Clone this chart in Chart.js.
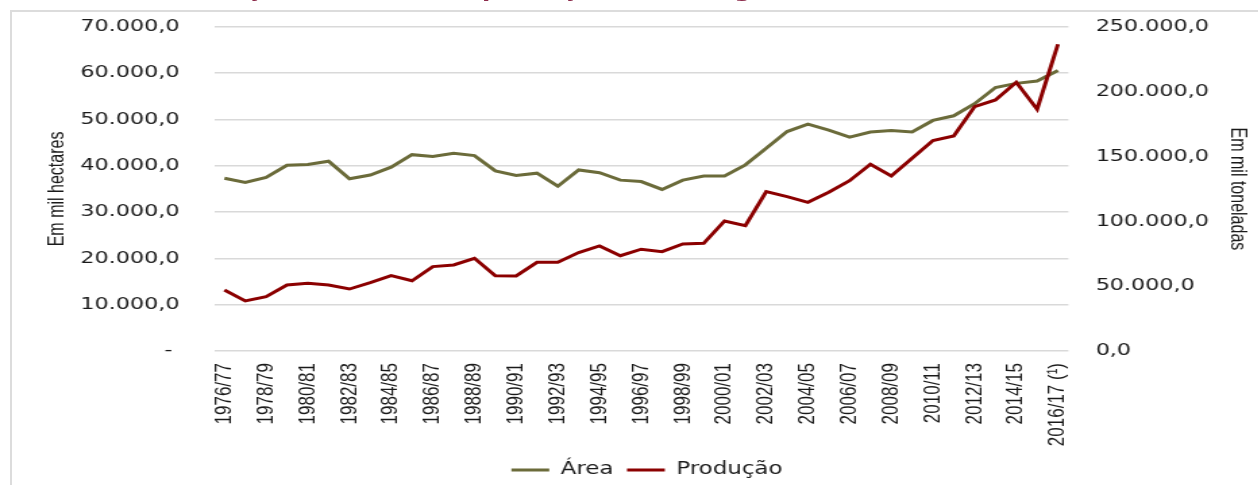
<!DOCTYPE html>
<html lang="pt">
<head>
<meta charset="utf-8">
<title>Evolução da área e da produção de grãos</title>
<script src="https://cdn.jsdelivr.net/npm/chart.js@4.4.0/dist/chart.umd.min.js"></script>
<style>
  html, body { margin: 0; padding: 0; background: #fff; overflow: hidden; }
  body { width: 1258px; height: 485px; position: relative; }
  .moldura { position: absolute; left: 10px; top: 10px; width: 1300px; height: 500px;
             border-left: 2px solid #dcdcdc; border-top: 2px solid #dcdcdc; }
  /* a figura original está esticada na horizontal */
  .palco { position: absolute; left: 0; top: 0; width: 932px; height: 485px;
           transform-origin: 0 0; transform: scaleX(1.35); }
  .titulo { position: absolute; left: 15px; top: -18px; white-space: nowrap;
            font: bold 18px "DejaVu Sans", sans-serif; line-height: 18px; color: #8b2a4a; }
  canvas { position: absolute; left: 0; top: 0; }
</style>
</head>
<body>
<div class="moldura"></div>
<div class="palco">
  <div class="titulo">Gráfico 1 – Evolução da área e da produção total de grãos</div>
  <canvas id="grafico" width="932" height="485"></canvas>
</div>
<script>
// safras
const safras = [
  "1976/77", "1977/78", "1978/79", "1979/80", "1980/81", "1981/82", "1982/83",
  "1983/84", "1984/85", "1985/86", "1986/87", "1987/88", "1988/89", "1989/90",
  "1990/91", "1991/92", "1992/93", "1993/94", "1994/95", "1995/96", "1996/97",
  "1997/98", "1998/99", "1999/00", "2000/01", "2001/02", "2002/03", "2003/04",
  "2004/05", "2005/06", "2006/07", "2007/08", "2008/09", "2009/10", "2010/11",
  "2011/12", "2012/13", "2013/14", "2014/15", "2015/16", "2016/17 (¹)"
];

// área plantada, em mil hectares
const area = [
  37300, 36400, 37500, 40100, 40300, 41000, 37200, 38000, 39700, 42400,
  42000, 42700, 42200, 38900, 37900, 38400, 35600, 39100, 38500, 36900,
  36600, 34900, 36900, 37800, 37800, 40200, 43800, 47400, 49000, 47700,
  46200, 47300, 47600, 47300, 49800, 50800, 53400, 56900, 57800, 58300,
  60600
];

// produção, em mil toneladas
const producao = [
  47100, 38600, 41900, 50900, 52200, 50900, 47800, 52700, 58100, 54200,
  65100, 66400, 71500, 58100, 57900, 68400, 68400, 75900, 81000, 73500,
  78500, 76600, 82600, 83100, 100300, 96700, 122900, 119100, 114700, 122500,
  131400, 144100, 135000, 148700, 162300, 165900, 188500, 193700, 207300, 186500,
  236600
];

const corArea = "#6b6b3a";
const corProducao = "#8b0000";

function formata(v) {
  const s = Math.round(v).toString().replace(/\B(?=(\d{3})+(?!\d))/g, ".");
  return s + ",0";
}

const ctx = document.getElementById("grafico").getContext("2d");

new Chart(ctx, {
  type: "line",
  data: {
    labels: safras,
    datasets: [
      {
        label: "Área",
        data: area,
        yAxisID: "y",
        borderColor: corArea,
        backgroundColor: corArea,
        borderWidth: 3,
        pointRadius: 0,
        pointStyle: "line",
        tension: 0,
        order: 1
      },
      {
        label: "Produção",
        data: producao,
        yAxisID: "y1",
        borderColor: corProducao,
        backgroundColor: corProducao,
        borderWidth: 3,
        pointRadius: 0,
        pointStyle: "line",
        tension: 0,
        order: 0
      }
    ]
  },
  options: {
    responsive: false,
    animation: false,
    layout: { padding: { top: 20, left: 30.6, right: 4.1, bottom: 0 } },
    plugins: {
      tooltip: { enabled: false },
      legend: {
        position: "bottom",
        maxHeight: 33.5,
        labels: {
          usePointStyle: true,
          pointStyleWidth: 28,
          padding: 10,
          color: "#1a1a1a",
          font: { family: "DejaVu Sans", size: 17 },
          sort: (a, b) => a.datasetIndex - b.datasetIndex
        }
      }
    },
    scales: {
      x: {
        offset: true,
        grid: { display: false, drawTicks: false },
        border: { display: false },
        afterFit: scale => { scale.height = 100.5; },
        ticks: {
          autoSkip: false,
          maxRotation: 90,
          minRotation: 90,
          padding: 12,
          color: "#1a1a1a",
          font: { family: "Liberation Sans", size: 17 },
          callback: function (v, i) { return i % 2 === 0 ? safras[i] : ""; }
        }
      },
      y: {
        position: "left",
        min: 0,
        max: 70000,
        grid: { color: "#d9d9d9", lineWidth: 1.5, drawTicks: false },
        border: { display: false },
        ticks: {
          stepSize: 10000,
          padding: 17,
          color: "#1a1a1a",
          font: { family: "DejaVu Sans", size: 16.5 },
          callback: v => v === 0 ? "-  \u2009" : formata(v) + " \u2009"
        },
        title: {
          display: true,
          text: "Em mil hectares",
          color: "#1a1a1a",
          font: { family: "Liberation Sans", size: 16 },
          padding: { top: 2, bottom: -9.3 }
        }
      },
      y1: {
        position: "right",
        min: 0,
        max: 250000,
        grid: { display: false, drawTicks: false },
        border: { display: false },
        ticks: {
          stepSize: 50000,
          padding: 15,
          color: "#1a1a1a",
          font: { family: "DejaVu Sans", size: 16.5 },
          callback: v => " " + formata(v)
        },
        title: {
          display: true,
          text: "Em mil toneladas",
          color: "#1a1a1a",
          font: { family: "Liberation Sans", size: 16 },
          padding: { top: 2, bottom: -3.9 }
        }
      }
    }
  }
});
</script>
</body>
</html>
